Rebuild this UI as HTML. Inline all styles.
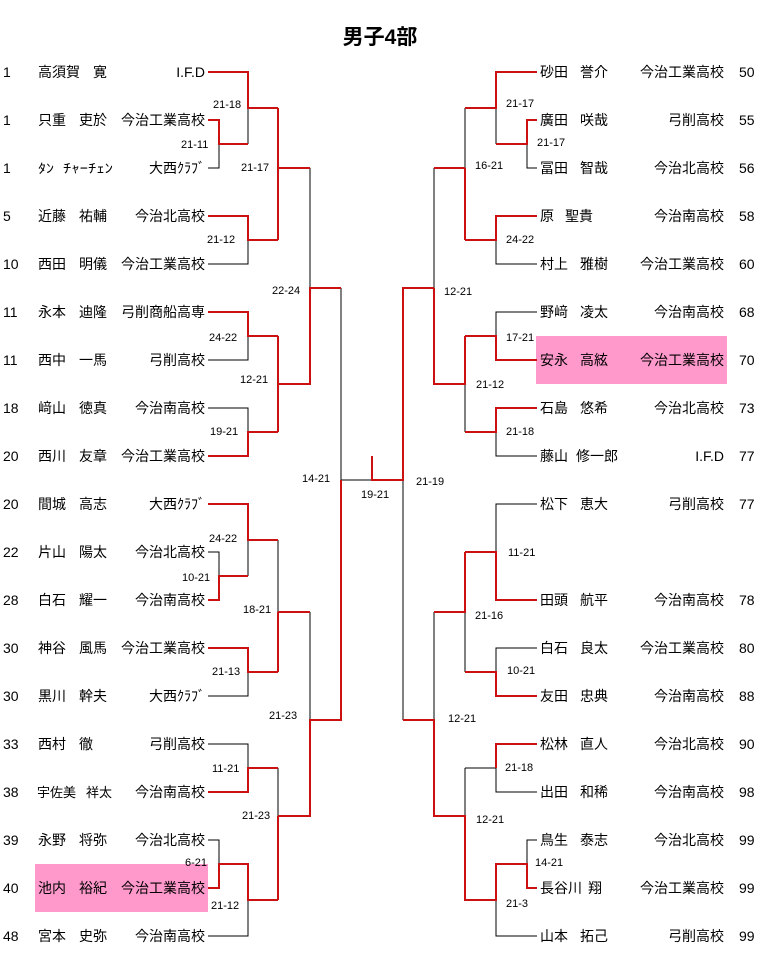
<!DOCTYPE html>
<html><head><meta charset="utf-8"><style>
body{margin:0;background:#fff}
svg text{font-family:"Liberation Sans","Noto Sans CJK JP",sans-serif;fill:#000}
.n{font-size:14px}.s{font-size:11px}
</style></head><body>
<svg width="760" height="961" xmlns="http://www.w3.org/2000/svg">
<rect x="35" y="864" width="173" height="48" fill="#ff99cc"/>
<rect x="536" y="336" width="191" height="48" fill="#ff99cc"/>
<text x="380" y="44" font-size="21" font-weight="bold" text-anchor="middle" style="font-family:'Liberation Sans','Noto Sans CJK JP',sans-serif">男子4部</text>
<g fill="none" stroke="#000" stroke-width="1">
<path d="M208 168H219V144M248 108V144M248 240V264H208M310 168V288M341 288V480H372"/>
<path d="M248 336V360H208M208 408H248V432"/>
<path d="M248 540V576M208 552H219V576M248 672V696H208M278 540V612"/>
<path d="M208 744H248V768M248 768V792M208 840H219V864M248 900V936H208M278 768V816M310 612V720"/>
<path d="M496 108V144M537 168H527V144M496 240V264H537M465 108V168M434 168V288"/>
<path d="M537 312H496V336M496 432V456H537M465 384V432"/>
<path d="M403 480V720"/>
<path d="M537 504H496V552M537 648H496V672M465 612V672"/>
<path d="M496 768V792H537M465 768H496M537 840H527V864M496 900V936H537M465 768V816M434 612V720"/>
</g>
<g fill="none" stroke="#cc1111" stroke-width="2">
<path d="M208 72H248V108H278M208 120H219V144H248M208 216H248V240H278M278 108V240M278 168H310"/>
<path d="M208 312H248V336H278M208 456H248V432H278M278 336V432M278 384H310V288H341"/>
<path d="M372 456V480H403V288H434"/>
<path d="M208 504H248V540H278M208 600H219V576H248M208 648H248V672H278M278 612V672M278 612H310"/>
<path d="M208 792H248V768H278M208 888H219V864H248V900H278M278 816V900M278 816H310V720H341V480"/>
<path d="M537 72H496V108H465M537 120H527V144H496M537 216H496V240H465M465 168V240M465 168H434"/>
<path d="M537 360H496V336H465M537 408H496V432H465M465 336V384H434V288"/>
<path d="M537 600H496V552H465M537 696H496V672H465M465 552V612H434"/>
<path d="M537 744H496V768M537 888H527V864H496V900H465V816H434V720H403"/>
</g>
<g class="s">
<text x="213" y="108">21-18</text><text x="181" y="148">21-11</text><text x="241" y="171">21-17</text>
<text x="207" y="243">21-12</text><text x="272" y="294">22-24</text><text x="209" y="341">24-22</text>
<text x="240" y="383">12-21</text><text x="210" y="435">19-21</text><text x="302" y="482">14-21</text>
<text x="209" y="542">24-22</text><text x="182" y="581">10-21</text><text x="243" y="613">18-21</text>
<text x="212" y="675">21-13</text><text x="269" y="719">21-23</text><text x="212" y="772">11-21</text>
<text x="242" y="819">21-23</text><text x="185" y="866">6-21</text><text x="211" y="909">21-12</text>
<text x="361" y="498">19-21</text><text x="416" y="485">21-19</text>
<text x="506" y="107">21-17</text><text x="537" y="146">21-17</text><text x="475" y="169">16-21</text>
<text x="506" y="243">24-22</text><text x="444" y="295">12-21</text><text x="506" y="341">17-21</text>
<text x="476" y="388">21-12</text><text x="506" y="435">21-18</text>
<text x="508" y="556">11-21</text><text x="475" y="619">21-16</text><text x="507" y="674">10-21</text>
<text x="448" y="722">12-21</text><text x="505" y="771">21-18</text><text x="476" y="823">12-21</text>
<text x="535" y="866">14-21</text><text x="506" y="907">21-3</text>
</g>
<g class="n">
<text x="3" y="77">1</text><text x="38" y="77">高須賀</text><text x="93" y="77">寛</text><text x="205" y="77" text-anchor="end">I.F.D</text>
<text x="3" y="125">1</text><text x="38" y="125">只重</text><text x="79" y="125">吏於</text><text x="205" y="125" text-anchor="end">今治工業高校</text>
<text x="3" y="173">1</text><text x="38" y="173" font-size="13" textLength="16" lengthAdjust="spacingAndGlyphs">ﾀﾝ</text><text x="63" y="173" font-size="13" textLength="50" lengthAdjust="spacingAndGlyphs">ﾁｬｰﾁｪﾝ</text><text x="205" y="173" text-anchor="end">大西ｸﾗﾌﾞ</text>
<text x="3" y="221">5</text><text x="38" y="221">近藤</text><text x="79" y="221">祐輔</text><text x="205" y="221" text-anchor="end">今治北高校</text>
<text x="3" y="269">10</text><text x="38" y="269">西田</text><text x="79" y="269">明儀</text><text x="205" y="269" text-anchor="end">今治工業高校</text>
<text x="3" y="317">11</text><text x="38" y="317">永本</text><text x="79" y="317">迪隆</text><text x="205" y="317" text-anchor="end">弓削商船高専</text>
<text x="3" y="365">11</text><text x="38" y="365">西中</text><text x="79" y="365">一馬</text><text x="205" y="365" text-anchor="end">弓削高校</text>
<text x="3" y="413">18</text><text x="38" y="413">﨑山</text><text x="79" y="413">徳真</text><text x="205" y="413" text-anchor="end">今治南高校</text>
<text x="3" y="461">20</text><text x="38" y="461">西川</text><text x="79" y="461">友章</text><text x="205" y="461" text-anchor="end">今治工業高校</text>
<text x="3" y="509">20</text><text x="38" y="509">間城</text><text x="79" y="509">高志</text><text x="205" y="509" text-anchor="end">大西ｸﾗﾌﾞ</text>
<text x="3" y="557">22</text><text x="38" y="557">片山</text><text x="79" y="557">陽太</text><text x="205" y="557" text-anchor="end">今治北高校</text>
<text x="3" y="605">28</text><text x="38" y="605">白石</text><text x="79" y="605">耀一</text><text x="205" y="605" text-anchor="end">今治南高校</text>
<text x="3" y="653">30</text><text x="38" y="653">神谷</text><text x="79" y="653">風馬</text><text x="205" y="653" text-anchor="end">今治工業高校</text>
<text x="3" y="701">30</text><text x="38" y="701">黒川</text><text x="79" y="701">幹夫</text><text x="205" y="701" text-anchor="end">大西ｸﾗﾌﾞ</text>
<text x="3" y="749">33</text><text x="38" y="749">西村</text><text x="79" y="749">徹</text><text x="205" y="749" text-anchor="end">弓削高校</text>
<text x="3" y="797">38</text><text x="37" y="797" font-size="13">宇佐美</text><text x="86" y="797" font-size="13">祥太</text><text x="205" y="797" text-anchor="end">今治南高校</text>
<text x="3" y="845">39</text><text x="38" y="845">永野</text><text x="79" y="845">将弥</text><text x="205" y="845" text-anchor="end">今治北高校</text>
<text x="3" y="893">40</text><text x="38" y="893">池内</text><text x="79" y="893">裕紀</text><text x="205" y="893" text-anchor="end">今治工業高校</text>
<text x="3" y="941">48</text><text x="38" y="941">宮本</text><text x="79" y="941">史弥</text><text x="205" y="941" text-anchor="end">今治南高校</text>

<text x="540" y="77">砂田</text><text x="580" y="77">誉介</text><text x="724" y="77" text-anchor="end">今治工業高校</text><text x="739" y="77">50</text>
<text x="540" y="125">廣田</text><text x="580" y="125">咲哉</text><text x="724" y="125" text-anchor="end">弓削高校</text><text x="739" y="125">55</text>
<text x="540" y="173">冨田</text><text x="580" y="173">智哉</text><text x="724" y="173" text-anchor="end">今治北高校</text><text x="739" y="173">56</text>
<text x="540" y="221">原</text><text x="565" y="221">聖貴</text><text x="724" y="221" text-anchor="end">今治南高校</text><text x="739" y="221">58</text>
<text x="540" y="269">村上</text><text x="580" y="269">雅樹</text><text x="724" y="269" text-anchor="end">今治工業高校</text><text x="739" y="269">60</text>
<text x="540" y="317">野﨑</text><text x="580" y="317">凌太</text><text x="724" y="317" text-anchor="end">今治南高校</text><text x="739" y="317">68</text>
<text x="540" y="365">安永</text><text x="580" y="365">高絃</text><text x="724" y="365" text-anchor="end">今治工業高校</text><text x="739" y="365">70</text>
<text x="540" y="413">石島</text><text x="580" y="413">悠希</text><text x="724" y="413" text-anchor="end">今治北高校</text><text x="739" y="413">73</text>
<text x="540" y="461">藤山</text><text x="576" y="461">修一郎</text><text x="724" y="461" text-anchor="end">I.F.D</text><text x="739" y="461">77</text>
<text x="540" y="509">松下</text><text x="580" y="509">恵大</text><text x="724" y="509" text-anchor="end">弓削高校</text><text x="739" y="509">77</text>
<text x="540" y="605">田頭</text><text x="580" y="605">航平</text><text x="724" y="605" text-anchor="end">今治南高校</text><text x="739" y="605">78</text>
<text x="540" y="653">白石</text><text x="580" y="653">良太</text><text x="724" y="653" text-anchor="end">今治工業高校</text><text x="739" y="653">80</text>
<text x="540" y="701">友田</text><text x="580" y="701">忠典</text><text x="724" y="701" text-anchor="end">今治南高校</text><text x="739" y="701">88</text>
<text x="540" y="749">松林</text><text x="580" y="749">直人</text><text x="724" y="749" text-anchor="end">今治北高校</text><text x="739" y="749">90</text>
<text x="540" y="797">出田</text><text x="580" y="797">和稀</text><text x="724" y="797" text-anchor="end">今治南高校</text><text x="739" y="797">98</text>
<text x="540" y="845">鳥生</text><text x="580" y="845">泰志</text><text x="724" y="845" text-anchor="end">今治北高校</text><text x="739" y="845">99</text>
<text x="540" y="893">長谷川</text><text x="588" y="893">翔</text><text x="724" y="893" text-anchor="end">今治工業高校</text><text x="739" y="893">99</text>
<text x="540" y="941">山本</text><text x="580" y="941">拓己</text><text x="724" y="941" text-anchor="end">弓削高校</text><text x="739" y="941">99</text>
</g>
</svg>
</body></html>
